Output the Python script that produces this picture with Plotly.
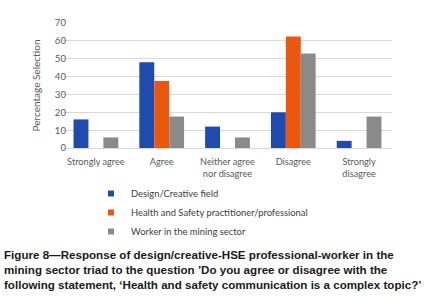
import plotly.graph_objects as go

categories = ["Strongly agree", "Agree", "Neither agree<br>nor disagree", "Disagree", "Strongly<br>disagree"]
design_creative = [16, 48, 12, 20, 4]
hs_practitioner = [0, 37.5, 0, 62.5, 0]
mining_worker = [5.9, 17.6, 5.9, 52.9, 17.6]
series_names = ["Design/Creative field", "Health and Safety practitioner/professional", "Worker in the mining sector"]
colors = ["#1F4BAE", "#EA570D", "#8A8A8A"]
y_ticks = [0, 10, 20, 30, 40, 50, 60, 70]

fig = go.Figure()
for i, (name, vals) in enumerate(zip(series_names, [design_creative, hs_practitioner, mining_worker])):
    fig.add_trace(go.Bar(x=categories, y=vals, name=name, marker_color=colors[i],
                         marker_line_width=0, showlegend=False))
# legend entries with small square keys
for i, name in enumerate(series_names):
    fig.add_trace(go.Scatter(x=[None], y=[None], mode="markers", name=name,
                             marker=dict(symbol="square", size=6, color=colors[i]),
                             showlegend=True))

L, T, PW, PH = 63, 23, 329, 125
font_fam = "Lato, 'Open Sans', sans-serif"
fig.update_layout(
    width=431, height=296,
    margin=dict(l=L, r=431 - L - PW, t=T, b=296 - T - PH),
    paper_bgcolor="white", plot_bgcolor="white",
    barmode="group", bargap=0.32, bargroupgap=0,
    font=dict(family=font_fam, size=9.2, color="#595959"),
    showlegend=True,
    legend=dict(x=(91 - L) / PW, xanchor="left",
                y=(T + PH - 179) / PH, yanchor="top", orientation="v",
                font=dict(family=font_fam, size=9.4, color="#404040"),
                tracegroupgap=0, itemwidth=30, bgcolor="rgba(0,0,0,0)"),
    xaxis=dict(showgrid=False, showline=True, linecolor="#D9D9D9", linewidth=1,
               ticks="", ticklabelstandoff=5, tickfont=dict(size=9.2, color="#595959")),
    yaxis=dict(range=[0, 70], tickvals=y_ticks, showgrid=True, gridcolor="#D9D9D9",
               gridwidth=1, zeroline=False, ticks="", ticklabelstandoff=-4,
               tickfont=dict(size=9.6, color="#595959"),
               title=dict(text="Percentage Selection", font=dict(size=10, color="#595959"), standoff=12)),
)

caption = ("<b>Figure 8—Response of design/creative-HSE professional-worker in the<br>"
           "mining sector triad to the question ’Do you agree or disagree with the<br>"
           "following statement, ‘Health and safety communication is a complex topic?’</b>")
fig.add_annotation(text=caption, xref="paper", yref="paper", x=(2 - L) / PW, y=(T + PH - 246) / PH,
                   xanchor="left", yanchor="top", showarrow=False, align="left",
                   font=dict(family="'Liberation Sans', Arial, sans-serif", size=11.6, color="#1a1a1a"))

fig.write_html("out.html", config={"displayModeBar": False},
               post_script="document.body.style.margin='0';")
